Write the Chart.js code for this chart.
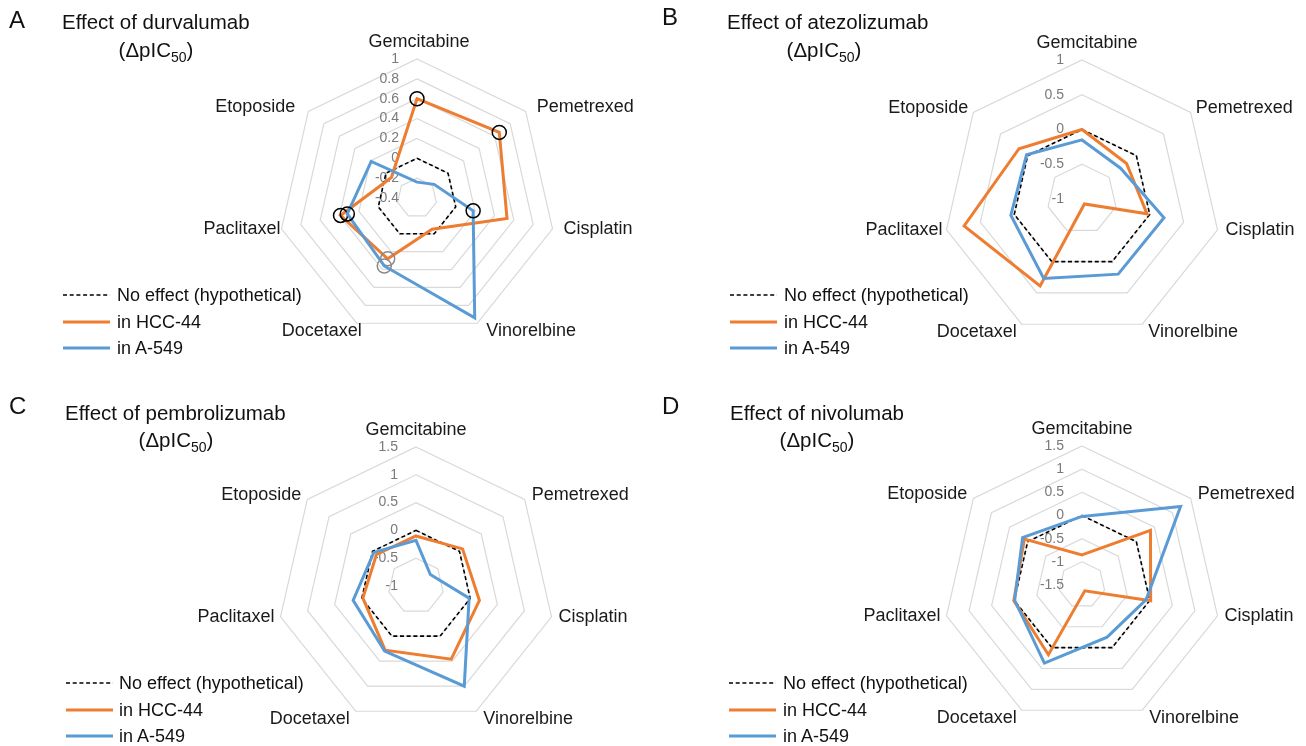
<!DOCTYPE html>
<html>
<head>
<meta charset="utf-8">
<title>Effect of checkpoint inhibitors (ΔpIC50)</title>
<script src="https://cdn.jsdelivr.net/npm/chart.js@4.4.1/dist/chart.umd.min.js"></script>
<style>
  body { margin: 0; background: #fff; font-family: "Liberation Sans", Arial, Helvetica, sans-serif; color: #111; }
  #page { position: relative; width: 1306px; height: 746px; overflow: hidden; background: #fff; }
  .panel { position: absolute; width: 653px; height: 373px; }
  .panel canvas { position: absolute; left: 0; top: 0; }
  .letter { position: absolute; font-size: 24px; line-height: 24px; }
  .title { position: absolute; font-size: 20.5px; line-height: 20.5px; white-space: nowrap; }
  .sub { position: absolute; font-size: 20.5px; line-height: 20.5px; white-space: nowrap; transform: translateX(-50%); }
  .sub sub { font-size: 14px; vertical-align: -5px; line-height: 0; }
  .legend-row { position: absolute; height: 18px; font-size: 18px; line-height: 18px; white-space: nowrap; }
  .legend-row svg { position: absolute; top: 0; }
  .legend-row span { position: absolute; top: 0; }
</style>
</head>
<body>
<div id="page"></div>
<script>
const ORANGE = '#ED7D31';
const BLUE = '#5B9BD5';

const drugs = ['Gemcitabine', 'Pemetrexed', 'Cisplatin', 'Vinorelbine', 'Docetaxel', 'Paclitaxel', 'Etoposide'];
const noEffect = [0, 0, 0, 0, 0, 0, 0];

// A - durvalumab
const durvaTicks = [-0.4, -0.2, 0, 0.2, 0.4, 0.6, 0.8, 1];
const durvaHcc44 = [0.6, 0.66, 0.53, -0.05, 0.28, 0.39, -0.07];
const durvaA549 = [-0.24, -0.18, 0.18, 0.94, 0.36, 0.32, 0.19];
// 1 = black circle, 2 = grey circle
const durvaHcc44Sig = [1, 1, 0, 0, 2, 1, 0];
const durvaA549Sig = [0, 0, 1, 0, 2, 1, 0];

// B - atezolizumab
const atezoTicks = [-1, -0.5, 0, 0.5, 1];
const atezoHcc44 = [0, -0.18, -0.04, -0.92, 0.39, 0.74, 0.16];
const atezoA549 = [-0.15, -0.29, 0.21, 0.2, 0.27, 0.05, 0.02];

// C - pembrolizumab
const pembroTicks = [-1, -0.5, 0, 0.5, 1, 1.5];
const pembroHcc44 = [-0.1, 0.07, 0.17, 0.46, 0.28, -0.02, -0.09];
const pembroA549 = [-0.18, -0.67, -0.02, 1.0, 0.3, 0.16, -0.03];

// D - nivolumab
const nivoTicks = [-1.5, -1, -0.5, 0, 0.5, 1, 1.5];
const nivoHcc44 = [-0.85, 0.39, 0.02, -1.36, 0.17, 0.01, 0.09];
const nivoA549 = [-0.02, 1.22, -0.08, -0.25, 0.37, -0.01, 0.14];

const seriesLabels = ['No effect (hypothetical)', 'in HCC-44', 'in A-549'];

// layout only: where each panel, its texts and its axis labels sit
const panels = [
  { letter: 'A', title: 'Effect of durvalumab', left: 0, top: 0, letterY: 8, titleX: 62, titleY: 12, subX: 156, subY: 40,
    pad: { left: 278, top: 59 }, legend: { lx: 63, tx: 117, y: 286 }, labelDx: [2, 4, 4, 2, 11, 5, -7],
    ticks: durvaTicks, hcc: durvaHcc44, a549: durvaA549, hccSig: durvaHcc44Sig, a549Sig: durvaA549Sig },
  { letter: 'B', title: 'Effect of atezolizumab', left: 653, top: 0, letterY: 5, titleX: 74, titleY: 12, subX: 171, subY: 40,
    pad: { left: 290, top: 60 }, legend: { lx: 77, tx: 131, y: 286 }, labelDx: [5, -2, 1, -1, 1, 2, 1],
    ticks: atezoTicks, hcc: atezoHcc44, a549: atezoA549 },
  { letter: 'C', title: 'Effect of pembrolizumab', left: 0, top: 373, letterY: 21, titleX: 65, titleY: 30, subX: 176, subY: 57,
    pad: { left: 277, top: 74 }, legend: { lx: 66, tx: 119, y: 301 }, labelDx: [0, 0, 0, 0, 0, 0, 0],
    ticks: pembroTicks, hcc: pembroHcc44, a549: pembroA549 },
  { letter: 'D', title: 'Effect of nivolumab', left: 653, top: 373, letterY: 21, titleX: 77, titleY: 30, subX: 164, subY: 57,
    pad: { left: 290, top: 73 }, legend: { lx: 76, tx: 130, y: 301 }, labelDx: [0, 0, 0, 0, 1, 0, 0],
    ticks: nivoTicks, hcc: nivoHcc44, a549: nivoA549 },
];

const radarText = {
  id: 'radarText',
  beforeDatasetsDraw(chart, args, opts) {
    const r = chart.scales.r;
    const ctx = chart.ctx;
    ctx.save();
    ctx.font = '14px "Liberation Sans", Arial, sans-serif';
    ctx.fillStyle = '#7a7a7a';
    ctx.textAlign = 'right';
    ctx.textBaseline = 'middle';
    opts.ticks.forEach((v) => {
      ctx.fillText(String(v), r.xCenter - 18, r.yCenter - r.getDistanceFromCenterForValue(v));
    });
    ctx.restore();
  },
  afterDraw(chart, args, opts) {
    const r = chart.scales.r;
    const ctx = chart.ctx;
    ctx.save();
    ctx.font = '18px "Liberation Sans", Arial, sans-serif';
    ctx.fillStyle = '#1a1a1a';
    ctx.textBaseline = 'middle';
    chart.data.labels.forEach((label, i) => {
      const p = r.getPointPosition(i, r.drawingArea);
      const dx = (p.x - r.xCenter) / r.drawingArea;
      const dy = (p.y - r.yCenter) / r.drawingArea;
      let x = p.x + (opts.labelDx[i] || 0);
      let y = p.y;
      if (Math.abs(dx) < 0.05) {
        ctx.textAlign = 'center';
        y -= 17;
      } else {
        ctx.textAlign = dx > 0 ? 'left' : 'right';
        x += dx > 0 ? 7 : -6;
        y += dy < -0.4 ? -4 : dy > 0.5 ? 8 : 0;
      }
      ctx.fillText(label, x, y);
    });
    ctx.restore();
  },
};

function sigRadius(sig) {
  return sig ? sig.map((s) => (s ? 7 : 0)) : 0;
}
function sigColor(sig) {
  return sig ? sig.map((s) => (s === 2 ? '#8a8a8a' : '#000')) : '#000';
}

function legendHtml(lg) {
  const styles = [
    { color: '#000', width: 1.6, dash: '4 2.7' },
    { color: ORANGE, width: 3, dash: '' },
    { color: BLUE, width: 3, dash: '' },
  ];
  return seriesLabels.map((label, i) => {
    const s = styles[i];
    const top = lg.y + i * 26.5;
    return `<div class="legend-row" style="left:0;top:${top}px;width:300px">
      <svg style="left:${lg.lx}px" width="48" height="18"><line x1="0" y1="9" x2="47" y2="9" stroke="${s.color}" stroke-width="${s.width}" ${s.dash ? `stroke-dasharray="${s.dash}"` : ''}/></svg>
      <span style="left:${lg.tx}px">${label}</span>
    </div>`;
  }).join('');
}

const page = document.getElementById('page');

panels.forEach((p) => {
  const el = document.createElement('div');
  el.className = 'panel';
  el.style.left = p.left + 'px';
  el.style.top = p.top + 'px';
  el.innerHTML = `
    <canvas width="653" height="373"></canvas>
    <div class="letter" style="left:9px;top:${p.letterY}px">${p.letter}</div>
    <div class="title" style="left:${p.titleX}px;top:${p.titleY}px">${p.title}</div>
    <div class="sub" style="left:${p.subX}px;top:${p.subY}px">(ΔpIC<sub>50</sub>)</div>
    ${legendHtml(p.legend)}`;
  page.appendChild(el);

  const ticks = p.ticks;
  new Chart(el.querySelector('canvas'), {
    type: 'radar',
    data: {
      labels: drugs,
      datasets: [
        {
          label: seriesLabels[0],
          data: noEffect,
          borderColor: '#000',
          borderWidth: 1.6,
          borderDash: [4, 2.7],
          pointRadius: 0,
          fill: false,
          order: 2,
        },
        {
          label: seriesLabels[1],
          data: p.hcc,
          borderColor: ORANGE,
          borderWidth: 3,
          fill: false,
          pointRadius: sigRadius(p.hccSig),
          pointBorderColor: sigColor(p.hccSig),
          pointBackgroundColor: 'rgba(0,0,0,0)',
          pointBorderWidth: 1.5,
          order: 1,
        },
        {
          label: seriesLabels[2],
          data: p.a549,
          borderColor: BLUE,
          borderWidth: 3,
          fill: false,
          pointRadius: sigRadius(p.a549Sig),
          pointBorderColor: sigColor(p.a549Sig),
          pointBackgroundColor: 'rgba(0,0,0,0)',
          pointBorderWidth: 1.5,
          order: 0,
        },
      ],
    },
    options: {
      responsive: false,
      animation: false,
      devicePixelRatio: 1,
      layout: {
        padding: { left: p.pad.left, top: p.pad.top, right: 653 - p.pad.left - 278, bottom: 373 - p.pad.top - 278 },
      },
      elements: { line: { tension: 0 } },
      plugins: {
        legend: { display: false },
        tooltip: { enabled: false },
        radarText: { ticks, labelDx: p.labelDx },
      },
      scales: {
        r: {
          min: ticks[0],
          max: ticks[ticks.length - 1],
          ticks: { stepSize: ticks[1] - ticks[0], display: false },
          pointLabels: { display: false },
          angleLines: { display: false },
          grid: { color: '#d9d9d9', lineWidth: 1.2 },
        },
      },
    },
    plugins: [radarText],
  });
});
</script>
</body>
</html>
